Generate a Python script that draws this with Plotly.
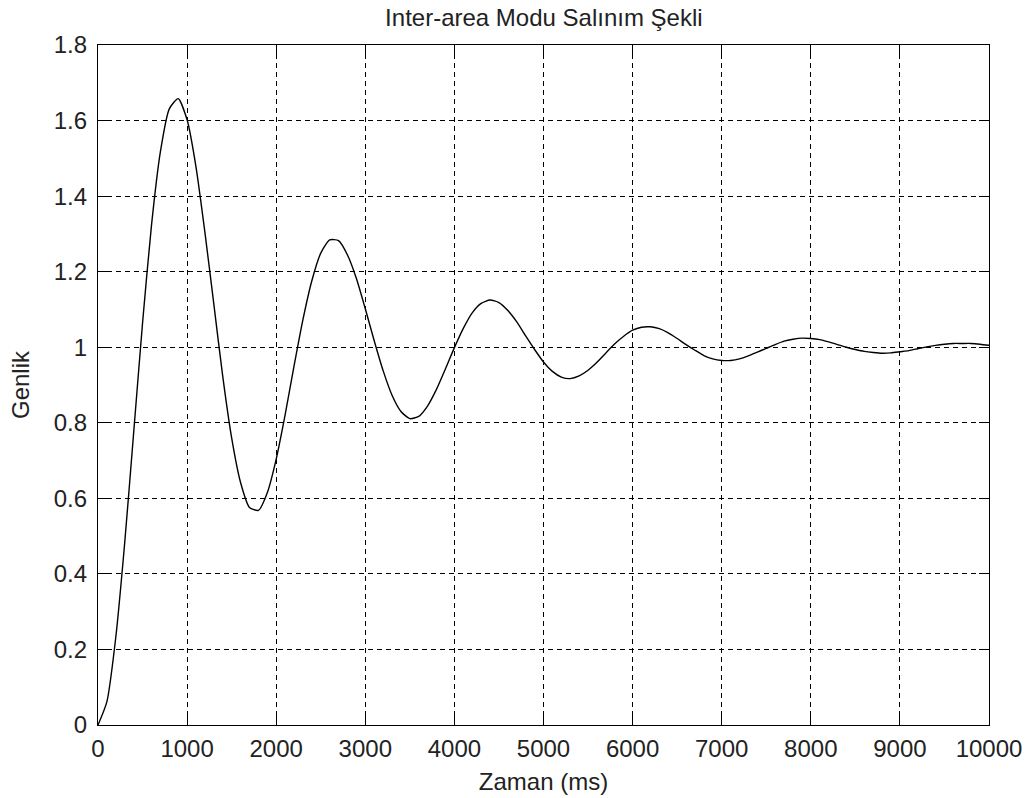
import plotly.graph_objects as go

# time in ms (sampled every 100 ms)
time_ms = list(range(0, 10001, 100))
# amplitude
genlik = [
    0.000, 0.062, 0.233, 0.483, 0.773, 1.064, 1.322, 1.517, 1.631, 1.658,
    1.602, 1.477, 1.304, 1.114, 0.923, 0.760, 0.642, 0.576, 0.568, 0.615,
    0.704, 0.821, 0.950, 1.073, 1.176, 1.249, 1.284, 1.282, 1.244, 1.182,
    1.102, 1.017, 0.938, 0.873, 0.830, 0.811, 0.817, 0.845, 0.889, 0.943,
    0.999, 1.050, 1.091, 1.116, 1.125, 1.118, 1.097, 1.067, 1.030, 0.994,
    0.961, 0.936, 0.921, 0.917, 0.924, 0.939, 0.960, 0.985, 1.009, 1.029,
    1.045, 1.053, 1.054, 1.049, 1.038, 1.023, 1.007, 0.992, 0.978, 0.969,
    0.965, 0.965, 0.969, 0.977, 0.987, 0.997, 1.007, 1.016, 1.021, 1.024,
    1.023, 1.020, 1.014, 1.007, 1.000, 0.994, 0.989, 0.986, 0.984, 0.985,
    0.988, 0.991, 0.996, 1.001, 1.005, 1.008, 1.010, 1.010, 1.010, 1.008,
    1.005,
]

x_tick_vals = [0, 1000, 2000, 3000, 4000, 5000, 6000, 7000, 8000, 9000, 10000]
x_tick_text = ["0", "1000", "2000", "3000", "4000", "5000", "6000", "7000", "8000", "9000", "10000"]
y_tick_vals = [0, 0.2, 0.4, 0.6, 0.8, 1.0, 1.2, 1.4, 1.6, 1.8]
y_tick_text = ["0", "0.2", "0.4", "0.6", "0.8", "1", "1.2", "1.4", "1.6", "1.8"]

title_text = "Inter-area Modu Salınım Şekli"
x_title = "Zaman (ms)"
y_title = "Genlik"

FONT = "Liberation Sans, Arial, sans-serif"

fig = go.Figure()
fig.add_trace(go.Scatter(
    x=time_ms, y=genlik, mode="lines",
    line=dict(color="black", width=1.4, shape="spline", smoothing=0.6),
    showlegend=False, hoverinfo="skip",
))

axis_common = dict(
    showline=True, linecolor="black", linewidth=1.3, mirror="ticks",
    ticks="inside", ticklen=10, tickwidth=1.3, tickcolor="black",
    showgrid=True, gridcolor="black", gridwidth=1, griddash="5px,4px",
    zeroline=False,
    tickfont=dict(family=FONT, size=24, color="#222222"),
)

fig.update_layout(
    width=1032, height=798,
    margin=dict(l=98, r=43, t=45, b=73, autoexpand=False),
    paper_bgcolor="white", plot_bgcolor="white",
    font=dict(family=FONT, size=24, color="#222222"),
    title=dict(text=title_text, x=0.527, xanchor="center", y=1 - 18 / 798, yanchor="middle",
               font=dict(family=FONT, size=24, color="#222222")),
    xaxis=dict(range=[0, 10000], tickmode="array", tickvals=x_tick_vals, ticktext=x_tick_text,
               title=dict(text=x_title, standoff=12, font=dict(family=FONT, size=24)),
               ticklabelstandoff=2,
               **axis_common),
    yaxis=dict(range=[0, 1.8], tickmode="array", tickvals=y_tick_vals, ticktext=y_tick_text,
               title=dict(text=y_title, standoff=17, font=dict(family=FONT, size=24)),
               ticklabelstandoff=5,
               **axis_common),
)

fig.write_html("out.html")
